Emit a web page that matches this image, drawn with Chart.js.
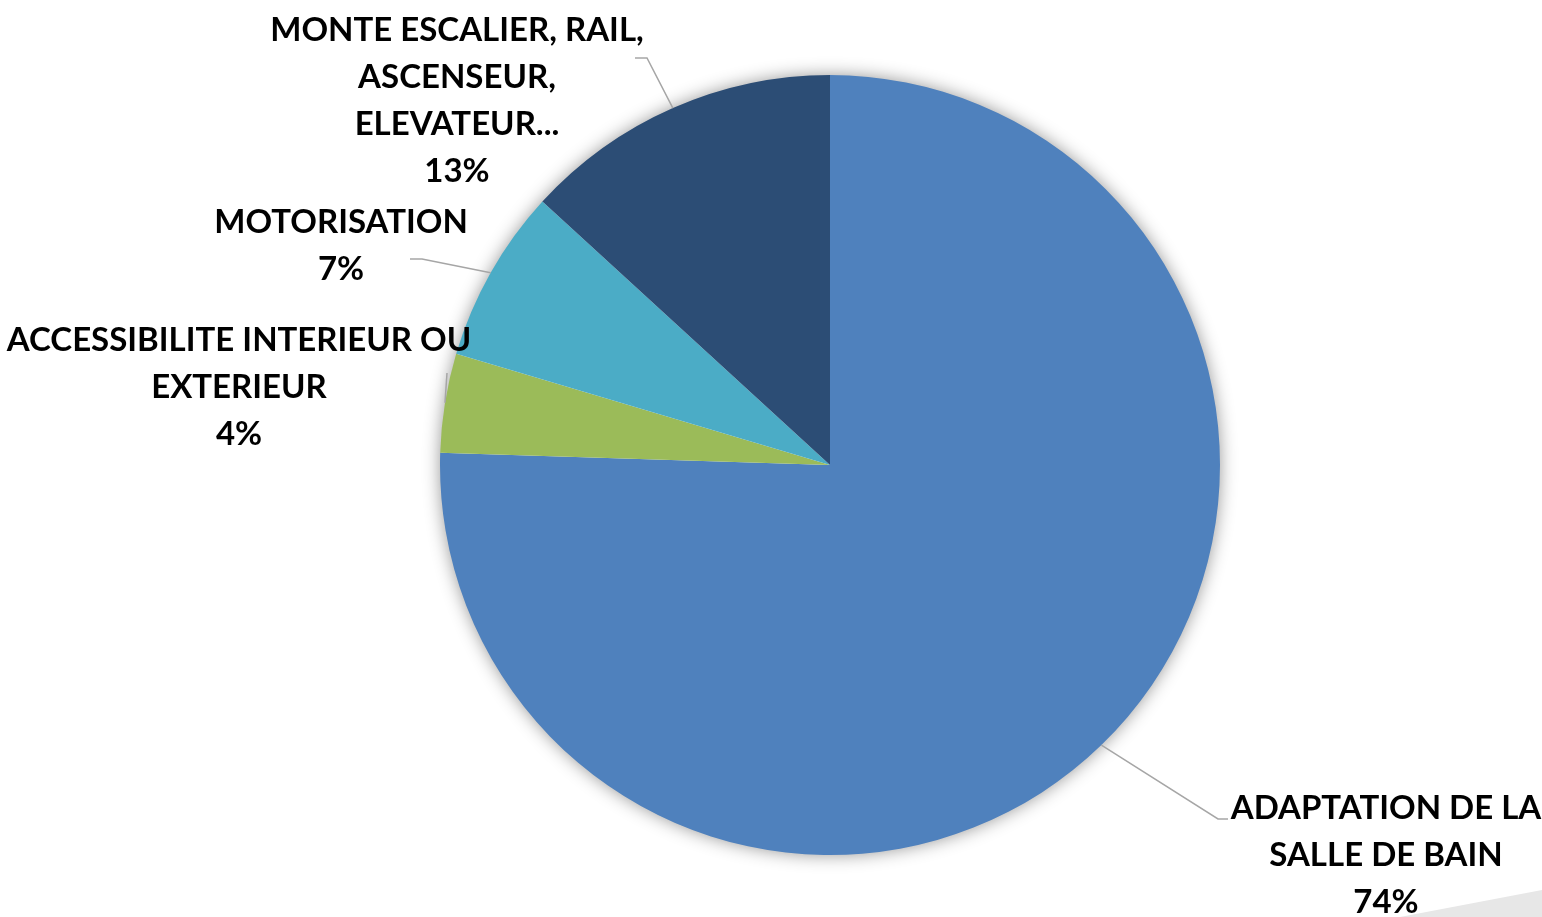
<!DOCTYPE html>
<html>
<head>
<meta charset="utf-8">
<script src="https://cdn.jsdelivr.net/npm/chart.js@4"></script>
<style>
  html, body { margin: 0; padding: 0; background: #fff; }
  #wrap { width: 1542px; height: 917px; position: relative; }
</style>
</head>
<body>
<div id="wrap"><canvas id="chart-pie" width="1542" height="917"></canvas></div>
<script>
const CATEGORIES = [
  ['ADAPTATION DE LA', 'SALLE DE BAIN'],
  ['ACCESSIBILITE INTERIEUR OU', 'EXTERIEUR'],
  ['MOTORISATION'],
  ['MONTE ESCALIER, RAIL,', 'ASCENSEUR,', 'ELEVATEUR...'],
];
const VALUES = [75.5, 4.1, 7.2, 13.2];
const PCT_LABELS = ['74%', '4%', '7%', '13%'];
const COLORS = ['#4F81BD', '#9BBB59', '#4BACC6', '#2C4D75'];

// label placement: text centre x, first line y, leader elbow and end
const LABEL_POS = [
  { x: 1386, y: 808, elbow: [1218, 819], end: [1228, 819] },
  { x: 239,  y: 340, elbow: [447, 373],  end: [447, 373] },
  { x: 341,  y: 222, elbow: [422, 259],  end: [410, 259] },
  { x: 457,  y: 30,  elbow: [647, 58],   end: [635, 58] },
];
const LINE_H = 47;
const FONT = 'bold 33px Lato, "Open Sans", sans-serif';

const pieShadow = {
  id: 'pie-shadow',
  beforeDatasetsDraw(chart) {
    const arc = chart.getDatasetMeta(0).data[0];
    if (!arc) return;
    const { ctx } = chart;
    ctx.save();
    ctx.shadowColor = 'rgba(0,0,0,0.45)';
    ctx.shadowBlur = 18;
    ctx.fillStyle = '#ffffff';
    ctx.beginPath();
    ctx.arc(arc.x, arc.y, arc.outerRadius - 1, 0, Math.PI * 2);
    ctx.fill();
    ctx.restore();
  },
};

const cornerShape = {
  id: 'corner-shape',
  beforeDraw(chart) {
    const { ctx, width, height } = chart;
    ctx.save();
    ctx.fillStyle = '#e7e7e7';
    ctx.beginPath();
    ctx.moveTo(width - 142, height);
    ctx.lineTo(width, height - 27);
    ctx.lineTo(width, height);
    ctx.closePath();
    ctx.fill();
    ctx.restore();
  },
};

const outsideLabels = {
  id: 'outside-labels',
  afterDatasetsDraw(chart) {
    const { ctx } = chart;
    const meta = chart.getDatasetMeta(0);
    ctx.save();
    meta.data.forEach((arc, i) => {
      const pos = LABEL_POS[i];
      const mid = (arc.startAngle + arc.endAngle) / 2;
      const sx = arc.x + Math.cos(mid) * arc.outerRadius;
      const sy = arc.y + Math.sin(mid) * arc.outerRadius;
      ctx.strokeStyle = '#a6a6a6';
      ctx.lineWidth = 1.5;
      ctx.beginPath();
      ctx.moveTo(sx, sy);
      ctx.lineTo(pos.elbow[0], pos.elbow[1]);
      ctx.lineTo(pos.end[0], pos.end[1]);
      ctx.stroke();

      ctx.fillStyle = '#000';
      ctx.font = FONT;
      ctx.textAlign = 'center';
      ctx.textBaseline = 'middle';
      const lines = [...CATEGORIES[i], PCT_LABELS[i]];
      lines.forEach((t, k) => ctx.fillText(t, pos.x, pos.y + k * LINE_H));
    });
    ctx.restore();
  },
};

new Chart(document.getElementById('chart-pie').getContext('2d'), {
  type: 'pie',
  data: {
    labels: CATEGORIES.map(c => c.join(' ')),
    datasets: [{
      data: VALUES,
      backgroundColor: COLORS,
      borderWidth: 0,
    }],
  },
  options: {
    responsive: false,
    animation: false,
    layout: { padding: { left: 440, right: 322, top: 75, bottom: 62 } },
    plugins: {
      legend: { display: false },
      tooltip: { enabled: false },
    },
  },
  plugins: [cornerShape, pieShadow, outsideLabels],
});
</script>
</body>
</html>
